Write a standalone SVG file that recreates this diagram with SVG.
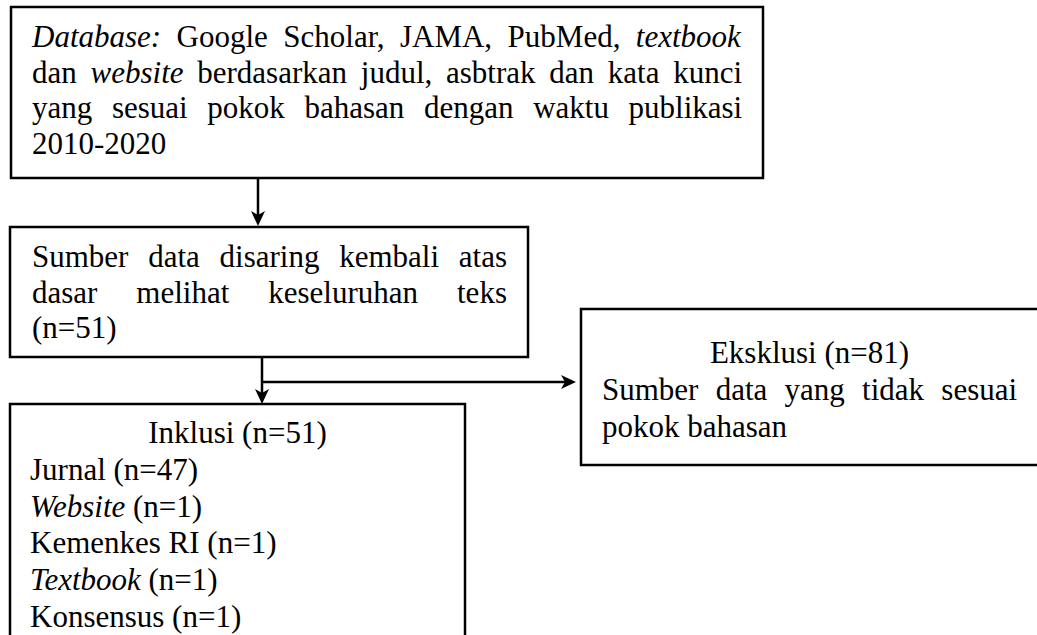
<svg xmlns="http://www.w3.org/2000/svg" width="1037" height="635" viewBox="0 0 1037 635">
<style>
.box{fill:#fff;stroke:#000;stroke-width:2.5}
.t{font-family:"Liberation Serif","Times New Roman",serif;font-size:31px;fill:#000}
.i{font-style:italic}
.ln{fill:none;stroke:#000;stroke-width:2.5}
.ah{fill:#000;stroke:none}
</style>
<rect width="1037" height="635" fill="#fff"/>
<g id="connectors">
<line class="ln" x1="258" y1="178" x2="258" y2="215"/>
<path class="ah" d="M258,226 L251,211 L258,215 L265,211 Z"/>
<line class="ln" x1="262" y1="357" x2="262" y2="393"/>
<path class="ah" d="M262,404 L255,389 L262,393 L269,389 Z"/>
<line class="ln" x1="262" y1="382" x2="565" y2="382"/>
<path class="ah" d="M576,382 L561,375 L565,382 L561,389 Z"/>
</g>
<g id="node-database">
<rect class="box" x="11" y="7" width="752" height="171"/>
<text class="t" x="32" y="47" style="word-spacing:7.7px"><tspan class="i">Database:</tspan> Google Scholar, JAMA, PubMed, <tspan class="i">textbook</tspan></text>
<text class="t" x="32" y="82.5" style="word-spacing:6px">dan <tspan class="i">website</tspan> berdasarkan judul, asbtrak dan kata kunci</text>
<text class="t" x="32" y="118" style="word-spacing:11.9px">yang sesuai pokok bahasan dengan waktu publikasi</text>
<text class="t" x="32" y="153.5">2010-2020</text>
</g>
<g id="node-sumber">
<rect class="box" x="10" y="227" width="518" height="130"/>
<text class="t" x="32" y="267" style="word-spacing:12px">Sumber data disaring kembali atas</text>
<text class="t" x="32" y="302.5" style="word-spacing:31.2px">dasar melihat keseluruhan teks</text>
<text class="t" x="32" y="338">(n=51)</text>
</g>
<g id="node-eksklusi">
<rect class="box" x="581" y="309" width="470" height="156"/>
<text class="t" x="809.5" y="363" text-anchor="middle">Eksklusi (n=81)</text>
<text class="t" x="602" y="400" style="word-spacing:9.5px">Sumber data yang tidak sesuai</text>
<text class="t" x="602" y="437">pokok bahasan</text>
</g>
<g id="node-inklusi">
<rect class="box" x="10" y="404" width="455" height="260"/>
<text class="t" x="237.5" y="443" text-anchor="middle">Inklusi (n=51)</text>
<text class="t" x="30" y="479.8">Jurnal (n=47)</text>
<text class="t" x="30" y="516.6"><tspan class="i">Website</tspan> (n=1)</text>
<text class="t" x="30" y="553.4">Kemenkes RI (n=1)</text>
<text class="t" x="30" y="590.2"><tspan class="i">Textbook</tspan> (n=1)</text>
<text class="t" x="30" y="627">Konsensus (n=1)</text>
</g>
</svg>
